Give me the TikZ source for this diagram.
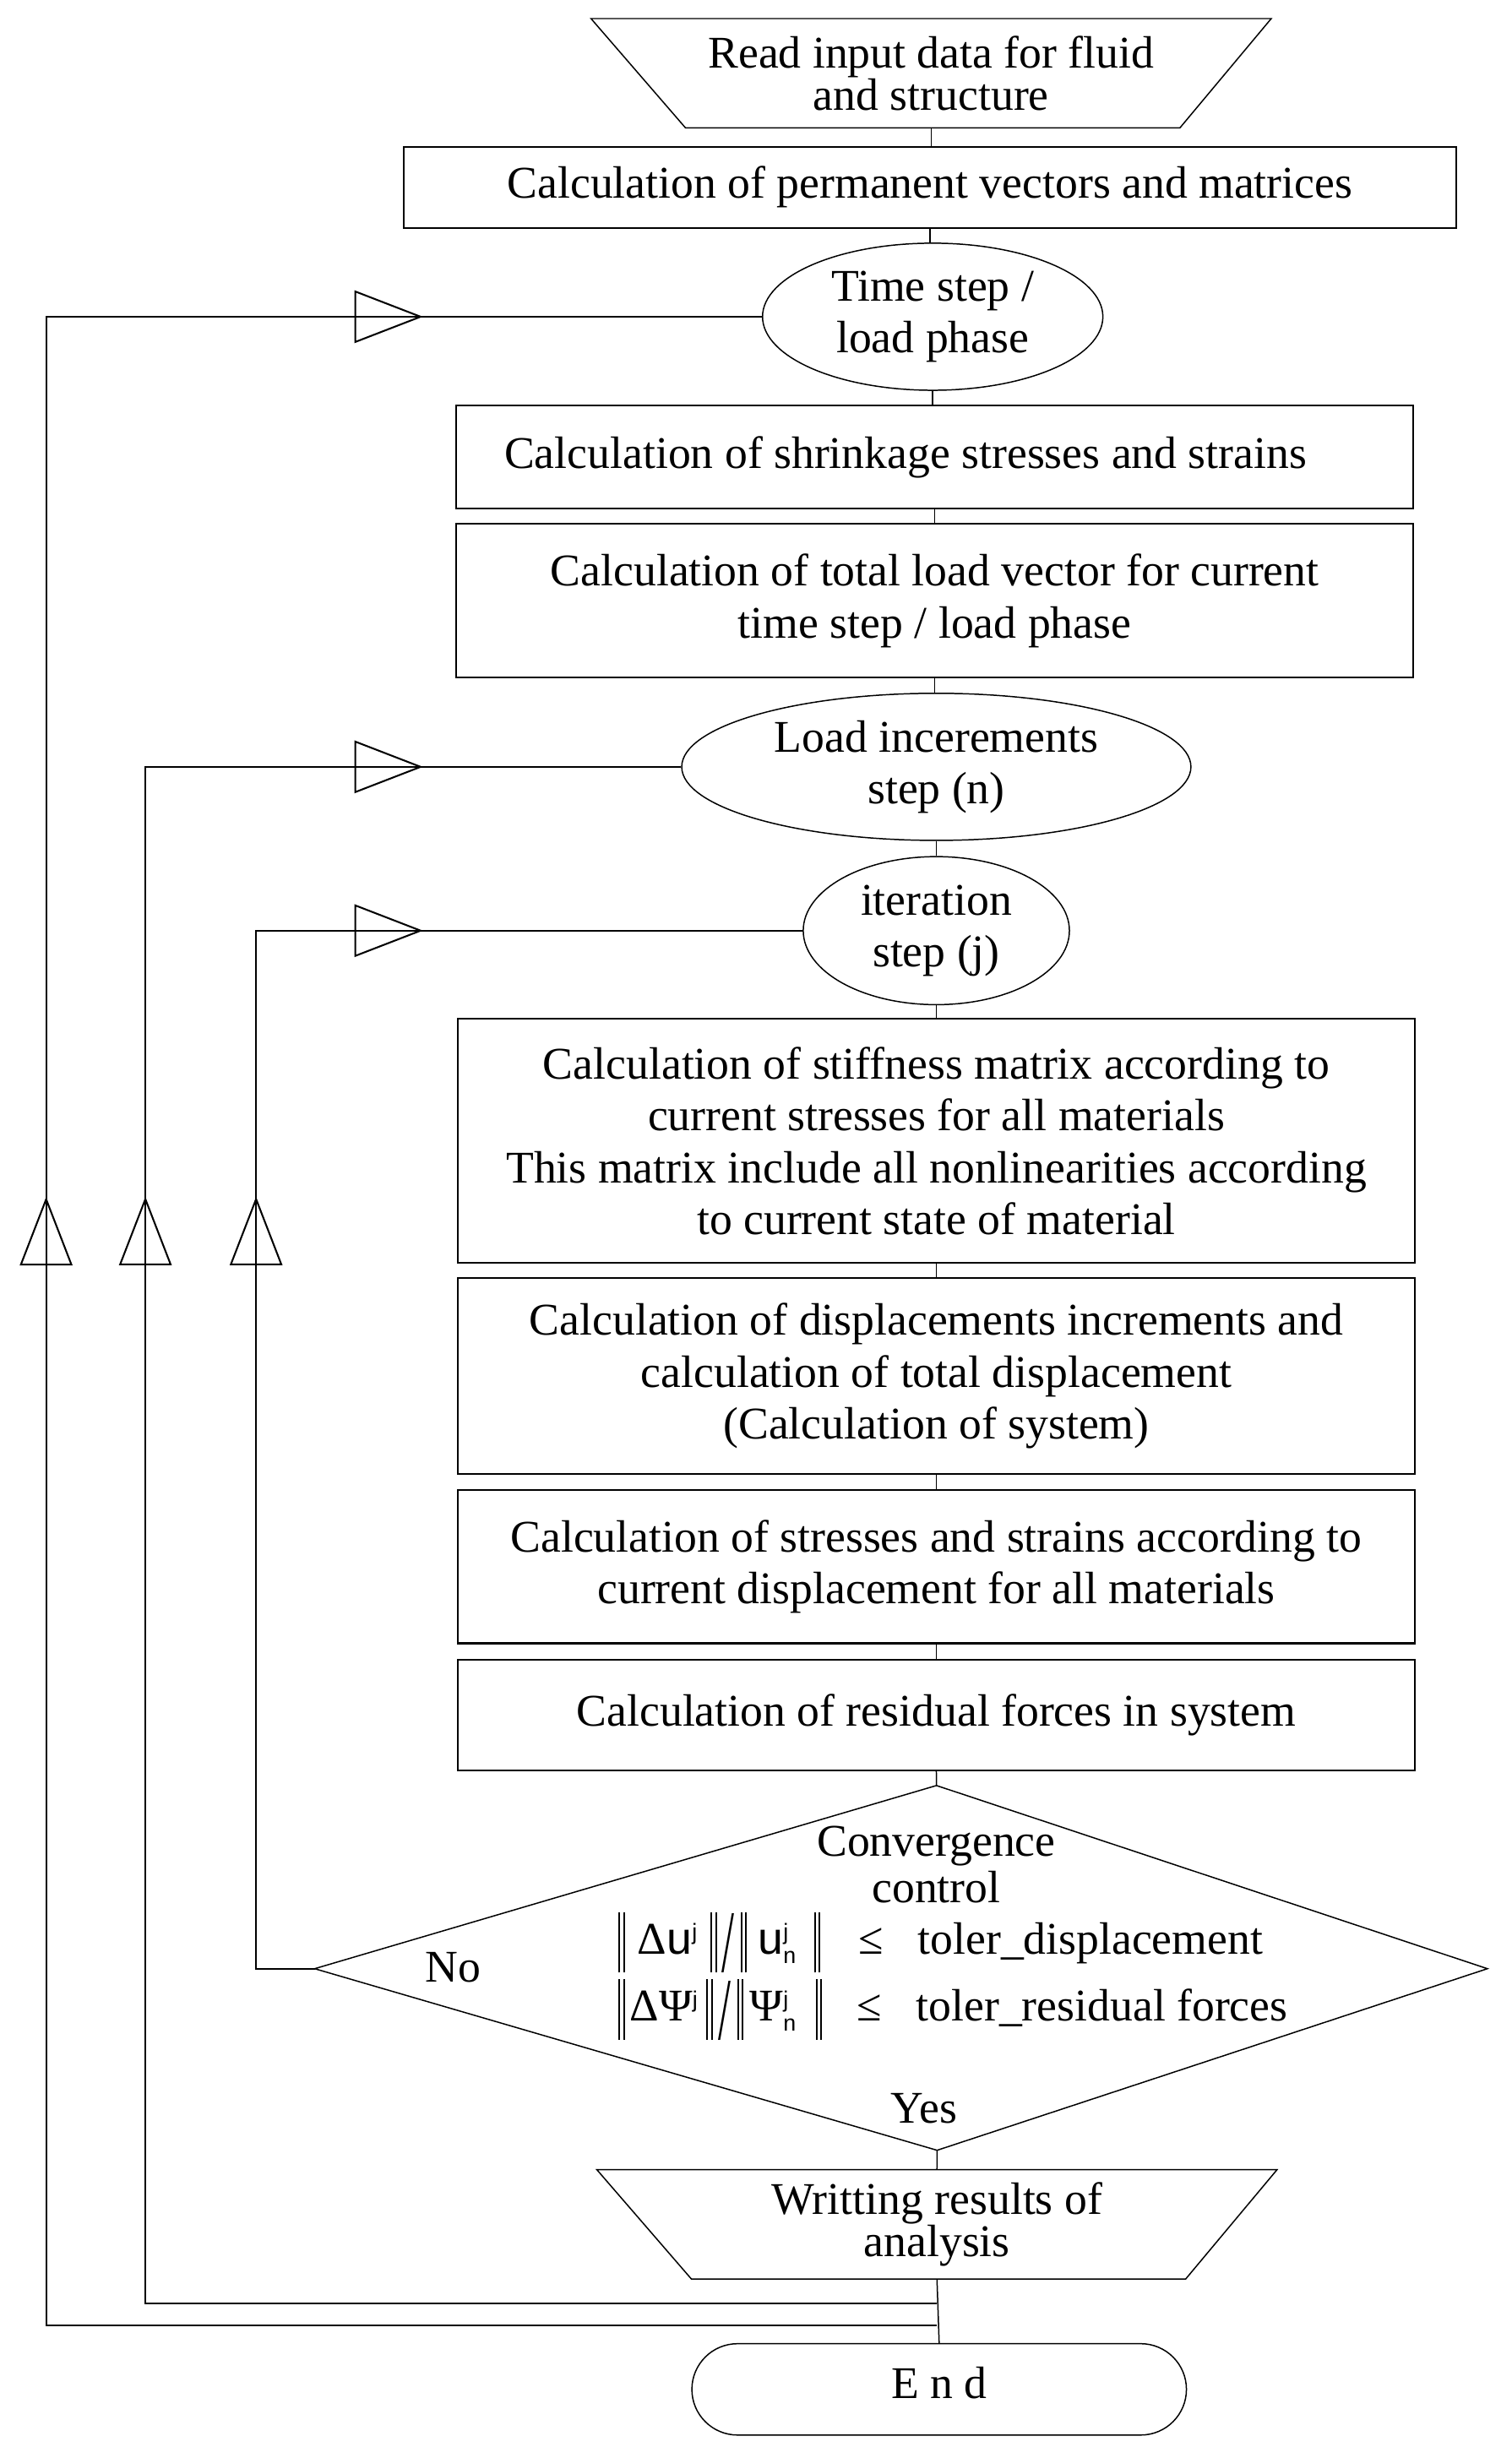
\documentclass[tikz,border=0pt]{standalone}
\usepackage{fontspec}
\setmainfont{Liberation Serif}
\setsansfont{Liberation Sans}
\usetikzlibrary{shapes.geometric,arrows.meta,decorations.markings}

\newcommand{\normbar}{\rule[-11.8pt]{1.1pt}{38.4pt}\hspace{1.9pt}\rule[-11.8pt]{1.1pt}{38.4pt}}
\newcommand{\tallslash}{\raisebox{-11.5pt}{\scalebox{1}[1.95]{/}}}
\newcommand{\sj}{{\scriptscriptstyle\mathsf{j}}}
\newcommand{\sn}{{\scriptscriptstyle\mathsf{n}}}

\tikzset{
	txt/.style={font=\fontsize{28.8}{33}\selectfont, align=center, inner sep=0pt},
	box/.style={txt, draw, line width=1.1pt, minimum width=607.5pt},
	oval/.style={txt, draw, line width=0.8pt, ellipse},
	trap/.style={txt, minimum width=431.5pt, minimum height=69pt,
		font=\fontsize{28.8}{25.8}\selectfont},
	term/.style={txt, draw, line width=0.8pt, rounded corners=29pt,
		minimum width=314pt, minimum height=58pt},
	link/.style={line width=0.8pt},
	back/.style={line width=1.1pt},
	tri/.tip={Triangle[open, length=43.6pt, width=33.4pt]},
	backmarks/.style 2 args={postaction={decorate, decoration={markings,
		mark=at position #1pt with {\arrow{tri}},
		mark=at position #2pt with {\arrow{tri}}}}}
}

\begin{document}
\begin{tikzpicture}[x=1pt, y=-1pt]
	\useasboundingbox (0,0) rectangle (960,1560.7);
	% Knoten oben
	\node[trap] (read) at (591.2,46.5) {Read input data for fluid\\and structure};
	\node[box, minimum width=668.3pt, minimum height=51.5pt] (perm) at (590.4,118.9)
		{Calculation of permanent vectors and matrices};
	\node[oval, minimum width=216.1pt, minimum height=93.4pt] (time) at (592.2,201.1)
		{Time step /\\load phase};
	\node[box, minimum height=65.6pt] (shrink) at (593.5,290.1)
		{Calculation of shrinkage stresses and strains\hspace*{37pt}};
	\node[box, minimum height=97.5pt] (total) at (593.5,381.5)
		{Calculation of total load vector for current\\time step / load phase};
	\node[oval, minimum width=323.3pt, minimum height=93.4pt] (load) at (594.5,486.9)
		{Load incerements\\step (n)};
	\node[oval, minimum width=169pt, minimum height=94pt] (iter) at (594.5,590.9)
		{iteration\\step (j)};
	% Knoten Iteration
	\node[box, minimum height=155pt] (stiff) at (594.5,724.4)
		{Calculation of stiffness matrix according to\\current stresses for all materials\\
		This matrix include all nonlinearities according\\to current state of material};
	\node[box, minimum height=124.5pt] (disp) at (594.5,873.6)
		{Calculation of displacements increments and\\calculation of total displacement\\
		(Calculation of system)};
	\node[box, minimum height=97.4pt] (stress) at (594.5,994.7)
		{Calculation of stresses and strains according to\\current displacement for all materials};
	\node[box, minimum height=70.4pt] (resid) at (594.5,1089)
		{Calculation of residual forces in system};
	% Raute
	\coordinate (dtop) at (594.6,1133.7);
	\coordinate (dleft) at (199.8,1250);
	\coordinate (dright) at (944.4,1250);
	\coordinate (dbot) at (595,1365.3);
	\draw[link] (dtop) -- (dright) -- (dbot) -- (dleft) -- cycle;
	\node[txt, font=\fontsize{28.8}{29.5}\selectfont] (conv) at (594.5,1183.9)
		{Convergence\\control};
	\node[txt, align=left, font=\fontsize{28.8}{42.7}\selectfont, anchor=west] (crit)
		at (392.6,1254.75)
		{\normbar\hspace{8pt}Δ$\mathsf{u}^\sj$\hspace{8pt}\normbar\hspace{3pt}\tallslash
		\hspace{4pt}\normbar\hspace{7pt}$\mathsf{u}^\sj_\sn$\hspace{11pt}\normbar
		\hspace{24pt}≤\hspace{22pt}toler\_displacement\\
		\normbar\hspace{3pt}ΔΨ$^\sj$\hspace{5pt}\normbar\hspace{3.5pt}\tallslash
		\hspace{4pt}\normbar\hspace{4pt}Ψ$^\sj_\sn$\hspace{12pt}\normbar
		\hspace{22pt}≤\hspace{22pt}toler\_residual forces};
	\node[txt] (no) at (287.6,1249) {No};
	\node[txt] (yes) at (586.7,1338.6) {Yes};
	% Knoten unten
	\node[trap] (write) at (594.9,1412.3) {Writting results of\\analysis};
	\node[term, text depth=8pt] (endn) at (596.3,1517.1) {E n d};
	% Trapeze
	\foreach \n in {read, write}
		\draw[link] (\n.north west) -- (\n.north east) -- ([xshift=-58pt]\n.south east)
			-- ([xshift=60pt]\n.south west) -- cycle;

	% Verbindungen
	\foreach \a/\b in {read/perm, perm/time, time/shrink, shrink/total, total/load,
		load/iter, iter/stiff, stiff/disp, disp/stress, stress/resid}
		\draw[link] (\a.south) -- (\a.south |- \b.north);
	\draw[link] (resid.south) -- (dtop);
	\draw[link] (dbot) -- (write.north);
	\draw[link] (write.south) -- (endn.north);

	% Rueckfuehrungen
	\coordinate (jout) at (594.8,1476.4);
	\coordinate (jmid) at (594.8,1462.3);
	\coordinate (cout) at (29.3,0);
	\coordinate (cmid) at (92.3,0);
	\coordinate (cin) at (162.6,0);
	\draw[back, backmarks={1282}{2080.1}] (jout) -- (jout -| cout) -- (cout |- time.west) -- (time.west);
	\draw[back, backmarks={1205}{1654.2}] (jmid) -- (jmid -| cmid) -- (cmid |- load.west) -- (load.west);
	\draw[back, backmarks={527.4}{802.3}] (dleft) -- (dleft -| cin) -- (cin |- iter.west) -- (iter.west);
\end{tikzpicture}
\end{document}
